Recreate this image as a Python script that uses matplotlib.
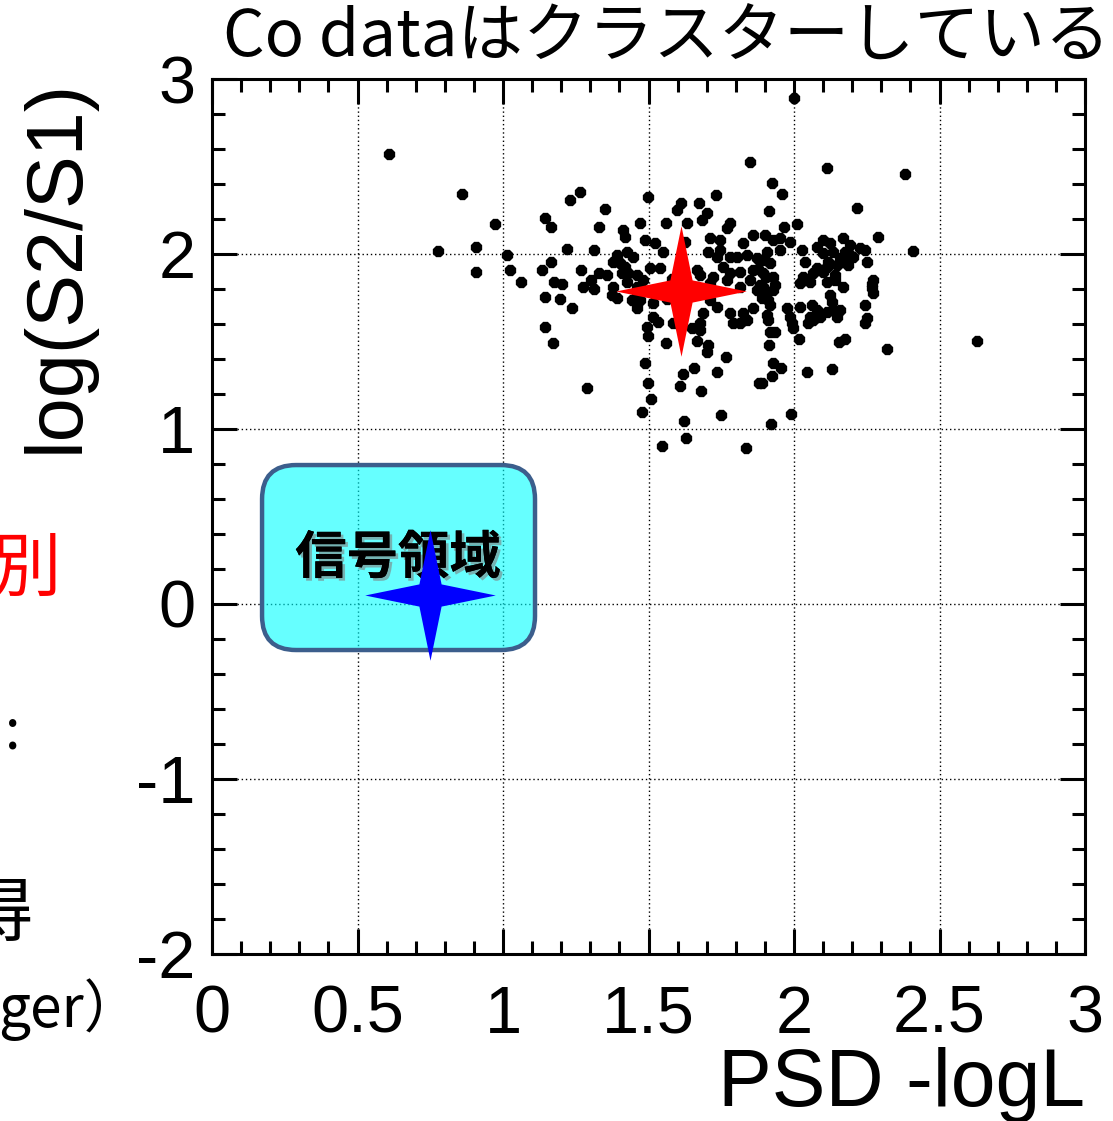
import numpy as np
import matplotlib
matplotlib.use("Agg")
import matplotlib.pyplot as plt
from matplotlib.path import Path
from matplotlib.patches import FancyBboxPatch
from matplotlib.ticker import MultipleLocator, FixedLocator
from matplotlib.transforms import IdentityTransform
import matplotlib.patheffects as pe

plt.rcParams['axes.unicode_minus'] = False

# ---------------- data ----------------
x_ticks = [0, 0.5, 1, 1.5, 2, 2.5, 3]
x_ticklabels = ["0", "0.5", "1", "1.5", "2", "2.5", "3"]
y_ticks = [-2, -1, 0, 1, 2, 3]
y_ticklabels = ["-2", "-1", "0", "1", "2", "3"]

psd_x = [0.608, 0.859, 0.973, 0.777, 0.907, 0.907, 1.014, 1.024, 1.062, 1.144,
         1.165, 1.230, 1.265, 1.351, 1.330, 1.220, 1.313, 1.165, 1.134, 1.268,
         1.330, 1.357, 1.175, 1.203, 1.302, 1.275, 1.313, 1.144, 1.196, 1.237,
         1.144, 1.172, 1.289, 1.412, 1.419, 1.392, 1.426, 1.378, 1.402, 1.419,
         1.409, 1.430, 1.378, 1.375, 1.392,
         1.498, 1.612, 1.598, 1.674, 1.732, 1.701, 1.684, 1.471, 1.560, 1.632,
         1.780, 1.770, 1.859, 1.488, 1.522, 1.625, 1.711, 1.746, 1.825, 1.447,
         1.550, 1.704, 1.746, 1.735, 1.780, 1.804, 1.838, 1.873, 1.505, 1.460,
         1.540, 1.667, 1.722, 1.756, 1.780, 1.814, 1.859, 1.460, 1.667, 1.711,
         1.770, 1.814, 1.849, 1.873, 1.471, 1.515, 1.460, 1.711, 1.735, 1.687,
         1.780, 1.825, 1.859, 1.515,
         1.924, 1.959, 1.914, 2.216, 2.010, 1.966, 2.289, 1.900, 1.928, 1.952,
         1.986, 2.100, 2.124, 2.168, 2.192, 2.227, 2.244, 2.027, 2.079, 2.100,
         2.134, 2.175, 1.907, 1.952, 1.893, 1.918, 2.038, 2.117, 2.158, 2.192,
         2.251, 2.079, 2.113, 2.148, 2.186, 1.893, 1.928, 2.065, 2.100, 2.141,
         2.031, 2.021, 2.055, 2.113, 2.141, 2.271, 1.893, 1.928, 2.168, 2.268,
         2.271, 1.890, 1.911, 2.124, 2.131, 2.244, 1.976, 2.021, 2.062, 2.079,
         2.113, 2.134, 1.907, 1.986, 2.055, 2.089, 2.148, 2.251,
         1.495, 1.533, 1.584, 1.649, 1.677, 1.677, 1.498, 1.560, 1.667, 1.704,
         1.701, 1.766, 1.488, 1.619, 1.656, 1.735, 1.498, 1.608, 1.680, 1.880,
         1.509, 1.478, 1.622, 1.749, 1.629, 1.546, 1.835, 1.790, 1.814, 1.838,
         1.911, 1.993, 1.997, 2.048, 2.065, 1.918, 1.935, 2.017, 1.914, 2.155,
         2.175, 2.244, 2.320, 1.928, 1.955, 1.924, 1.890, 2.045, 2.131, 1.990,
         1.921,
         2.000, 1.849, 2.113, 2.381, 2.409, 2.158, 2.629, 2.182, 2.203, 2.268,
         1.581, 1.649, 1.564, 1.677, 1.608, 1.883, 1.900, 1.918, 1.935, 1.876,
         1.904, 1.460, 1.481, 1.426, 1.443]
logs2s1 = [2.571, 2.343, 2.171, 2.017, 2.040, 1.897, 1.994, 1.909, 1.840, 2.206,
           2.154, 2.309, 2.354, 2.257, 2.154, 2.029, 2.023, 1.954, 1.909, 1.909,
           1.891, 1.880, 1.840, 1.829, 1.851, 1.811, 1.800, 1.754, 1.743, 1.691,
           1.583, 1.491, 1.234, 2.137, 2.097, 1.994, 2.011, 1.954, 1.949, 1.926,
           1.891, 1.891, 1.811, 1.766, 1.749,
           2.326, 2.291, 2.251, 2.291, 2.337, 2.234, 2.194, 2.177, 2.177, 2.177,
           2.177, 2.149, 2.109, 2.080, 2.063, 2.069, 2.091, 2.080, 2.063, 1.983,
           2.011, 2.011, 2.023, 1.983, 1.983, 1.983, 1.994, 1.977, 1.920, 1.880,
           1.920, 1.909, 1.869, 1.926, 1.891, 1.897, 1.909, 1.811, 1.811, 1.834,
           1.851, 1.811, 1.851, 1.794, 1.737, 1.720, 1.691, 1.737, 1.697, 1.663,
           1.663, 1.663, 1.691, 1.640,
           2.406, 2.343, 2.246, 2.263, 2.171, 2.154, 2.097, 2.109, 2.080, 2.091,
           2.069, 2.080, 2.063, 2.091, 2.051, 2.034, 2.023, 2.023, 2.040, 2.006,
           2.011, 2.011, 2.011, 2.023, 1.966, 1.949, 1.954, 1.954, 1.977, 1.994,
           1.954, 1.920, 1.926, 1.937, 1.937, 1.891, 1.869, 1.891, 1.897, 1.880,
           1.869, 1.834, 1.840, 1.840, 1.851, 1.851, 1.811, 1.794, 1.811, 1.806,
           1.777, 1.749, 1.737, 1.766, 1.726, 1.709, 1.691, 1.697, 1.709, 1.680,
           1.669, 1.680, 1.651, 1.640, 1.640, 1.640, 1.640, 1.634,
           1.583, 1.611, 1.606, 1.577, 1.606, 1.566, 1.531, 1.491, 1.503, 1.480,
           1.440, 1.411, 1.377, 1.314, 1.349, 1.326, 1.263, 1.246, 1.217, 1.263,
           1.171, 1.097, 1.046, 1.080, 0.949, 0.903, 0.891, 1.606, 1.606, 1.623,
           1.623, 1.606, 1.577, 1.606, 1.623, 1.554, 1.554, 1.514, 1.480, 1.497,
           1.514, 1.606, 1.457, 1.377, 1.349, 1.303, 1.263, 1.326, 1.343, 1.086,
           1.029,
           2.891, 2.526, 2.491, 2.457, 2.017, 1.680, 1.503, 1.983, 1.983, 1.829,
           1.857, 1.771, 1.743, 1.880, 1.937, 1.823, 1.766, 1.709, 1.823, 1.914,
           1.869, 1.771, 1.851, 1.840, 1.737]

red_star = (1.61, 1.79)     # Co data cluster centre
blue_star = (0.75, 0.05)    # signal region centre
signal_box = (0.172, -0.263, 1.110, 0.794)   # x0, y0, x1, y1 (data units)

# ---------------- figure ----------------
W, H = 1113, 1121
fig = plt.figure(figsize=(W / 100, H / 100), dpi=100)
ax = fig.add_axes([212 / W, 1 - 954 / H, 873 / W, 875 / H])
ax.set_xlim(0, 3)
ax.set_ylim(-2, 3)

ax.scatter(psd_x, logs2s1, s=78, marker='8', color='black', linewidths=0, zorder=3)

ax.xaxis.set_major_locator(FixedLocator(x_ticks))
ax.set_xticklabels(x_ticklabels)
ax.yaxis.set_major_locator(FixedLocator(y_ticks))
ax.set_yticklabels(y_ticklabels)
ax.xaxis.set_minor_locator(MultipleLocator(0.1))
ax.yaxis.set_minor_locator(MultipleLocator(0.2))

ax.tick_params(which='both', direction='in', top=True, right=True, width=2.2)
ax.tick_params(which='major', length=18)
ax.tick_params(which='minor', length=9.5)
ax.tick_params(axis='x', which='major', pad=22, labelsize=48)
ax.tick_params(axis='y', which='major', pad=12, labelsize=48)
for lab in ax.get_xticklabels() + ax.get_yticklabels():
    lab.set_fontfamily('Liberation Sans')
for sp in ax.spines.values():
    sp.set_linewidth(2.2)

ax.grid(True, which='major', linestyle=(0, (1, 2)), color='black', linewidth=1.0, zorder=1)
ax.set_axisbelow(True)

ax.set_xlabel("PSD -logL", fontsize=58, fontfamily='Liberation Sans', loc='right', labelpad=0)
ax.set_ylabel("log(S2/S1)", fontsize=57, fontfamily='Liberation Sans', loc='top', labelpad=30)

# star marker
r = 0.17
star = Path([(0, 1), (r, r), (1, 0), (r, -r), (0, -1), (-r, -r), (-1, 0), (-r, r), (0, 1)],
            [Path.MOVETO] + [Path.LINETO] * 7 + [Path.CLOSEPOLY])

# signal box (rounded, drawn in display space, inside the axes so z-order works)
fig.canvas.draw()
x0, y0 = ax.transData.transform((signal_box[0], signal_box[1]))
x1, y1 = ax.transData.transform((signal_box[2], signal_box[3]))
box = FancyBboxPatch((x0, y0), x1 - x0, y1 - y0,
                     boxstyle="round,pad=0,rounding_size=34",
                     facecolor=(0.0, 1.0, 1.0, 0.6), edgecolor='#3C5E8C',
                     linewidth=3.2, zorder=4, clip_on=False)
ax.add_patch(box)
box.set_transform(IdentityTransform())

ax.text(0.639, 0.263, "信号領域", fontsize=37, fontweight='bold',
        fontfamily=['Noto Sans CJK JP', 'DejaVu Sans'], ha='center', va='center',
        color='black', zorder=6,
        path_effects=[pe.withSimplePatchShadow(offset=(2, -2), shadow_rgbFace='gray', alpha=0.6),
                      pe.Normal()])

ax.plot([red_star[0]], [red_star[1]], marker=star, markersize=94, color='red',
        markeredgewidth=0, zorder=7, clip_on=False, linestyle='none')
ax.plot([blue_star[0]], [blue_star[1]], marker=star, markersize=94, color='blue',
        markeredgewidth=0, zorder=7, clip_on=False, linestyle='none')

# title and slide fragments
cjk = ['Noto Sans CJK JP', 'DejaVu Sans']
fig.text(667 / W, 1 - 38 / H, "Co dataはクラスターしている", fontsize=47,
         fontfamily=cjk, ha='center', va='center')
fig.text(-8 / W, 1 - 570 / H, "別", fontsize=50, fontfamily=cjk, color='red',
         ha='left', va='center')
fig.text(13 / W, 1 - 733 / H, ":", fontsize=40, fontfamily=cjk, color='black',
         ha='center', va='center')
fig.text(33 / W, 1 - 915 / H, "得", fontsize=50, fontfamily=cjk, color='black',
         ha='right', va='center')
fig.text(-2 / W, 1 - 1010 / H, "ger）", fontsize=41, fontfamily=cjk, color='black',
         ha='left', va='center')

fig.savefig("out.png", dpi=100)
